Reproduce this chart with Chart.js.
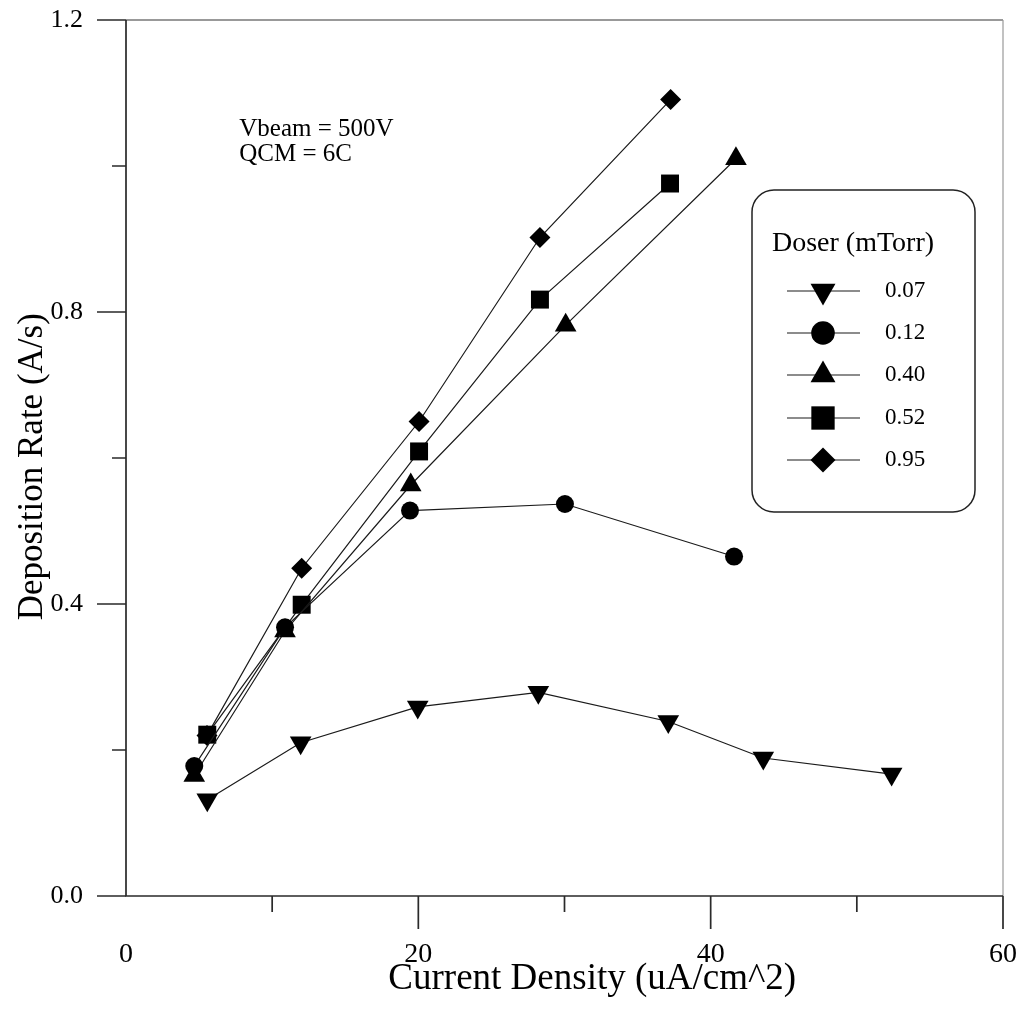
<!DOCTYPE html>
<html><head><meta charset="utf-8">
<script src="https://cdn.jsdelivr.net/npm/chart.js@4/dist/chart.umd.min.js"></script>
<style>html,body{margin:0;padding:0;background:#fff;} #wrap{width:1019px;height:1012px;}</style>
</head><body><div id="wrap"><canvas id="c" width="1019" height="1012"></canvas></div>
<script>
// ---- data ----
const seriesLabels = ['0.07', '0.12', '0.40', '0.52', '0.95'];
const x007 = [5.56, 11.95, 19.96, 28.21, 37.1, 43.6, 52.38];
const y007 = [0.132, 0.21, 0.259, 0.279, 0.239, 0.189, 0.167];
const x012 = [4.67, 10.88, 19.43, 30.03, 41.6];
const y012 = [0.178, 0.368, 0.528, 0.537, 0.465];
const x040 = [4.67, 10.88, 19.48, 30.08, 41.73];
const y040 = [0.165, 0.363, 0.563, 0.782, 1.01];
const x052 = [5.56, 12.02, 20.05, 28.32, 37.22];
const y052 = [0.221, 0.399, 0.609, 0.817, 0.976];
const x095 = [5.54, 12.02, 20.05, 28.32, 37.26];
const y095 = [0.22, 0.449, 0.650, 0.902, 1.091];
const xTickLabels = ['0', '20', '40', '60'];
const yTickLabels = ['0.0', '0.4', '0.8', '1.2'];
const annotationLines = ['Vbeam = 500V', 'QCM = 6C'];
const legendTitle = 'Doser (mTorr)';
const xTitle = 'Current Density (uA/cm^2)';
const yTitle = 'Deposition Rate (A/s)';

const FONT = "'Liberation Serif', 'Times New Roman', serif";
Chart.defaults.font.family = FONT;
Chart.defaults.color = '#000';

function pts(xs, ys) { return xs.map((x, i) => ({x: x, y: ys[i]})); }
const styles = [
  {pointStyle: 'triangle', rotation: 180, radius: 12.5, legendRadius: 14.4},
  {pointStyle: 'circle', rotation: 0, radius: 9, legendRadius: 11.8},
  {pointStyle: 'triangle', rotation: 0, radius: 12.5, legendRadius: 14.4},
  {pointStyle: 'rect', rotation: 0, radius: 12.7, legendRadius: 16.5},
  {pointStyle: 'rectRot', rotation: 0, radius: 10.5, legendRadius: 12.5}
];
const xsAll = [x007, x012, x040, x052, x095];
const ysAll = [y007, y012, y040, y052, y095];
const datasets = seriesLabels.map((lab, i) => ({
  label: lab,
  data: pts(xsAll[i], ysAll[i]),
  borderColor: '#1a1a1a',
  borderWidth: 1.2,
  backgroundColor: '#000',
  pointBackgroundColor: '#000',
  pointBorderColor: '#000',
  pointBorderWidth: 0,
  pointStyle: styles[i].pointStyle,
  pointRotation: styles[i].rotation,
  pointRadius: styles[i].radius,
  pointHoverRadius: styles[i].radius,
  showLine: true,
  tension: 0,
  fill: false
}));

function drawMarker(ctx, st, x, y) {
  const opts = {pointStyle: st.pointStyle, rotation: st.rotation, radius: st.legendRadius, borderWidth: 0};
  ctx.save();
  ctx.fillStyle = '#000';
  ctx.strokeStyle = '#000';
  if (Chart.helpers && Chart.helpers.drawPoint) {
    Chart.helpers.drawPoint(ctx, opts, x, y);
  } else {
    ctx.beginPath(); ctx.arc(x, y, opts.radius, 0, Math.PI * 2); ctx.fill();
  }
  ctx.restore();
}

const framePlugin = {
  id: 'frameTicks',
  beforeDatasetsDraw(chart) {
    const ctx = chart.ctx, a = chart.chartArea;
    const xs = chart.scales.x, ys = chart.scales.y;
    ctx.save();
    // top and right frame (lighter)
    ctx.lineWidth = 1.6;
    ctx.strokeStyle = '#777';
    ctx.beginPath();
    ctx.moveTo(a.left, a.top); ctx.lineTo(a.right, a.top);
    ctx.stroke();
    ctx.lineWidth = 1.2;
    ctx.strokeStyle = '#999';
    ctx.beginPath();
    ctx.moveTo(a.right, a.top); ctx.lineTo(a.right, a.bottom);
    ctx.stroke();
    // left and bottom axes
    ctx.lineWidth = 1.7;
    ctx.strokeStyle = '#2a2a2a';
    ctx.beginPath();
    ctx.moveTo(a.left, a.top); ctx.lineTo(a.left, a.bottom); ctx.lineTo(a.right, a.bottom);
    ctx.stroke();
    ctx.beginPath();
    xs.ticks.forEach(t => {
      const v = Math.round(t.value);
      if (v === 0) return;
      const px = xs.getPixelForValue(t.value);
      const len = (v % 20 === 0) ? 33 : 16;
      ctx.moveTo(px, a.bottom); ctx.lineTo(px, a.bottom + len);
    });
    ys.ticks.forEach(t => {
      const k = Math.round(t.value * 10);
      const py = ys.getPixelForValue(t.value);
      const len = (k % 4 === 0) ? 29 : 14;
      ctx.moveTo(a.left - len, py); ctx.lineTo(a.left, py);
    });
    ctx.stroke();
    ctx.restore();
  },
  afterDraw(chart) {
    const ctx = chart.ctx;
    const xs = chart.scales.x, ys = chart.scales.y;
    ctx.save();
    // annotation text
    ctx.fillStyle = '#000';
    ctx.font = '25px ' + FONT;
    ctx.textAlign = 'left';
    ctx.textBaseline = 'alphabetic';
    const ax = xs.getPixelForValue(7.75);
    ctx.fillText(annotationLines[0], ax, ys.getPixelForValue(1.041));
    ctx.fillText(annotationLines[1], ax, ys.getPixelForValue(1.007));
    // legend box
    const L = 752, T = 190, R = 975, B = 512, rad = 22;
    ctx.strokeStyle = '#222';
    ctx.lineWidth = 1.5;
    ctx.beginPath();
    ctx.moveTo(L + rad, T);
    ctx.lineTo(R - rad, T); ctx.arcTo(R, T, R, T + rad, rad);
    ctx.lineTo(R, B - rad); ctx.arcTo(R, B, R - rad, B, rad);
    ctx.lineTo(L + rad, B); ctx.arcTo(L, B, L, B - rad, rad);
    ctx.lineTo(L, T + rad); ctx.arcTo(L, T, L + rad, T, rad);
    ctx.closePath();
    ctx.fillStyle = '#fff';
    ctx.fill();
    ctx.stroke();
    ctx.fillStyle = '#000';
    ctx.font = '28px ' + FONT;
    ctx.textBaseline = 'middle';
    ctx.fillText(legendTitle, 772, 244);
    ctx.font = '23px ' + FONT;
    const rowY = [291, 333, 375, 418, 460];
    chart.data.datasets.forEach((ds, i) => {
      const y = rowY[i];
      ctx.strokeStyle = '#1a1a1a';
      ctx.lineWidth = 1.2;
      ctx.beginPath(); ctx.moveTo(787, y); ctx.lineTo(860, y); ctx.stroke();
      drawMarker(ctx, styles[i], 823, y);
      ctx.fillStyle = '#000';
      ctx.fillText(ds.label, 885, y);
    });
    ctx.restore();
  }
};

new Chart(document.getElementById('c'), {
  type: 'scatter',
  data: {datasets: datasets},
  options: {
    responsive: false,
    animation: false,
    devicePixelRatio: 1,
    layout: {padding: {top: 20, right: 16, left: 0, bottom: 0}},
    plugins: {legend: {display: false}, tooltip: {enabled: false}},
    scales: {
      x: {
        type: 'linear', position: 'bottom', min: 0, max: 60,
        grid: {display: false, drawTicks: false},
        border: {display: false},
        ticks: {
          stepSize: 10, autoSkip: false, maxRotation: 0, padding: 42,
          color: '#000', font: {size: 28},
          callback: (v) => { const s = String(Math.round(v)); return xTickLabels.includes(s) ? s : ''; }
        },
        title: {display: true, text: '      ' + xTitle, color: '#000', font: {size: 37}, padding: {top: 0, bottom: 11}},
        afterFit: (s) => { s.height = 116; s.paddingLeft = 0; s.paddingRight = 0; }
      },
      y: {
        type: 'linear', position: 'left', min: 0, max: 1.2,
        grid: {display: false, drawTicks: false},
        border: {display: false},
        ticks: {
          stepSize: 0.2, autoSkip: false, padding: 43,
          color: '#000', font: {size: 26},
          callback: (v) => { const s = (Math.round(v * 10) / 10).toFixed(1); return yTickLabels.includes(s) ? s : ''; }
        },
        title: {display: true, text: yTitle + '  ', color: '#000', font: {size: 35}, padding: {top: 12, bottom: 0}},
        afterFit: (s) => { s.width = 126; s.paddingTop = 0; s.paddingBottom = 0; }
      }
    }
  },
  plugins: [framePlugin]
});
</script>
</body></html>
